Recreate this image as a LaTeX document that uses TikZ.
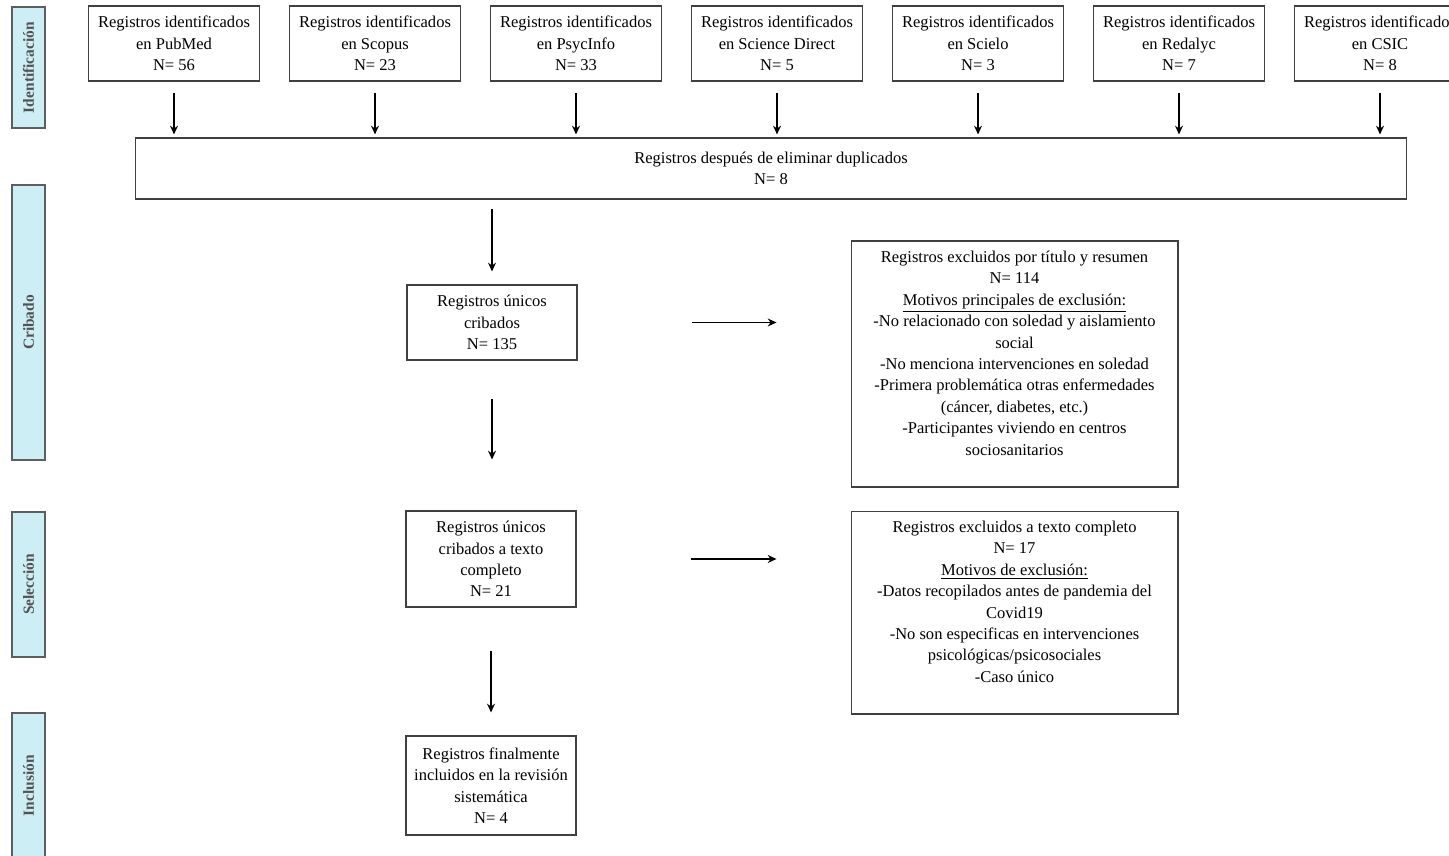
\documentclass[tikz,border=0pt]{standalone}
\usepackage{fontspec}
\setmainfont{Liberation Serif}
\usepackage{xcolor}
\definecolor{stagefill}{HTML}{CDEEF5}
\definecolor{stageline}{HTML}{5E5E5E}
\usetikzlibrary{arrows.meta, positioning}

\tikzset{
  box/.style={draw=black!75, line width=0.6pt, align=center, inner sep=2pt,
    font=\fontsize{9.4}{12.2}\selectfont},
  srcbox/.style={box, minimum width=3.42cm, minimum height=1.5cm},
  midbox/.style={box, minimum width=3.4cm},
  excbox/.style={box, minimum width=6.54cm},
  txt/.style={align=center, inner sep=0pt, font=\fontsize{9.4}{12.2}\selectfont},
  stage/.style={draw=stageline, fill=stagefill, line width=1pt, rotate=90,
    minimum height=0.66cm, text=black!68, inner sep=0pt,
    font=\fontsize{8.8}{9}\selectfont\bfseries},
  arr/.style={-{Stealth[length=5pt,width=4.5pt]}, line width=0.8pt}
}

\begin{document}
\begin{tikzpicture}[x=0.02cm, y=-0.02cm]
    \useasboundingbox (0,0) rectangle (1449,855);

    % Fases
    \node[stage, minimum width=2.42cm] (sident) at (28.5,67.5) {Identificación};
    \node[stage, minimum width=5.5cm] (scrib) at (28.5,322.5) {Cribado};
    \node[stage, minimum width=2.9cm] (ssel) at (28.5,584.5) {Selección};
    \node[stage, minimum width=2.9cm] (sincl) at (28.5,785.5) {Inclusión};

    % Registros identificados
    \foreach \i/\db/\n in {0/PubMed/56, 1/Scopus/23, 2/PsycInfo/33, 3/Science Direct/5,
                           4/Scielo/3, 5/Redalyc/7, 6/CSIC/8}
        \node[srcbox] (src\i) at (174+201*\i,43.5) {Registros identificados\\ en \db\\ N= \n};

    \node[box, minimum width=25.44cm, minimum height=1.22cm] (dup) at (771,168.5)
        {Registros después de eliminar duplicados\\ N= 8};

    \foreach \i in {0,...,6}
        \draw[arr, shorten <=0.22cm, shorten >=0.06cm] (src\i.south) -- (src\i.south |- dup.north);

    % Cribado y seleccion
    \node[midbox, minimum height=1.5cm] (crib) at (492,322.5)
        {Registros únicos\\ cribados\\ N= 135};
    \node[midbox, minimum height=1.92cm] (sel) at (491,559)
        {Registros únicos\\ cribados a texto\\ completo\\ N= 21};
    \node[midbox, minimum height=1.98cm] (incl) at (491,785.5)
        {Registros finalmente\\ incluidos en la revisión\\ sistemática\\ N= 4};

    % Excluidos
    \node[excbox, minimum height=4.92cm] (exc1) at (1014.5,364) {};
    \node[txt, anchor=north] (exc1txt) at ([yshift=-0.2cm]exc1.north)
        {Registros excluidos por título y resumen\\ N= 114\\
         \underline{Motivos principales de exclusión:}\\
         -No relacionado con soledad y aislamiento\\ social\\
         -No menciona intervenciones en soledad\\
         -Primera problemática otras enfermedades\\ (cáncer, diabetes, etc.)\\
         -Participantes viviendo en centros\\ sociosanitarios};
    \node[excbox, minimum height=4.06cm] (exc2) at (1014.5,612.5) {};
    \node[txt, anchor=north] (exc2txt) at ([yshift=-0.2cm]exc2.north)
        {Registros excluidos a texto completo\\ N= 17\\
         \underline{Motivos de exclusión:}\\
         -Datos recopilados antes de pandemia del\\ Covid19\\
         -No son especificas en intervenciones\\ psicológicas/psicosociales\\
         -Caso único};

    % Flechas
    \draw[arr, shorten <=0.18cm, shorten >=0.26cm] (crib.north |- dup.south) -- (crib.north);
    \draw[arr, shorten <=0.76cm, shorten >=1.02cm] (crib.south) -- (crib.south |- sel.north);
    \draw[arr, shorten <=0.86cm, shorten >=0.46cm] (sel.south) -- (sel.south |- incl.north);
    \draw[arr, shorten <=2.3cm, shorten >=1.48cm] (crib.east) -- (crib.east -| exc1.west);
    \draw[arr, shorten <=2.3cm, shorten >=1.48cm] (sel.east) -- (sel.east -| exc2.west);
\end{tikzpicture}
\end{document}
